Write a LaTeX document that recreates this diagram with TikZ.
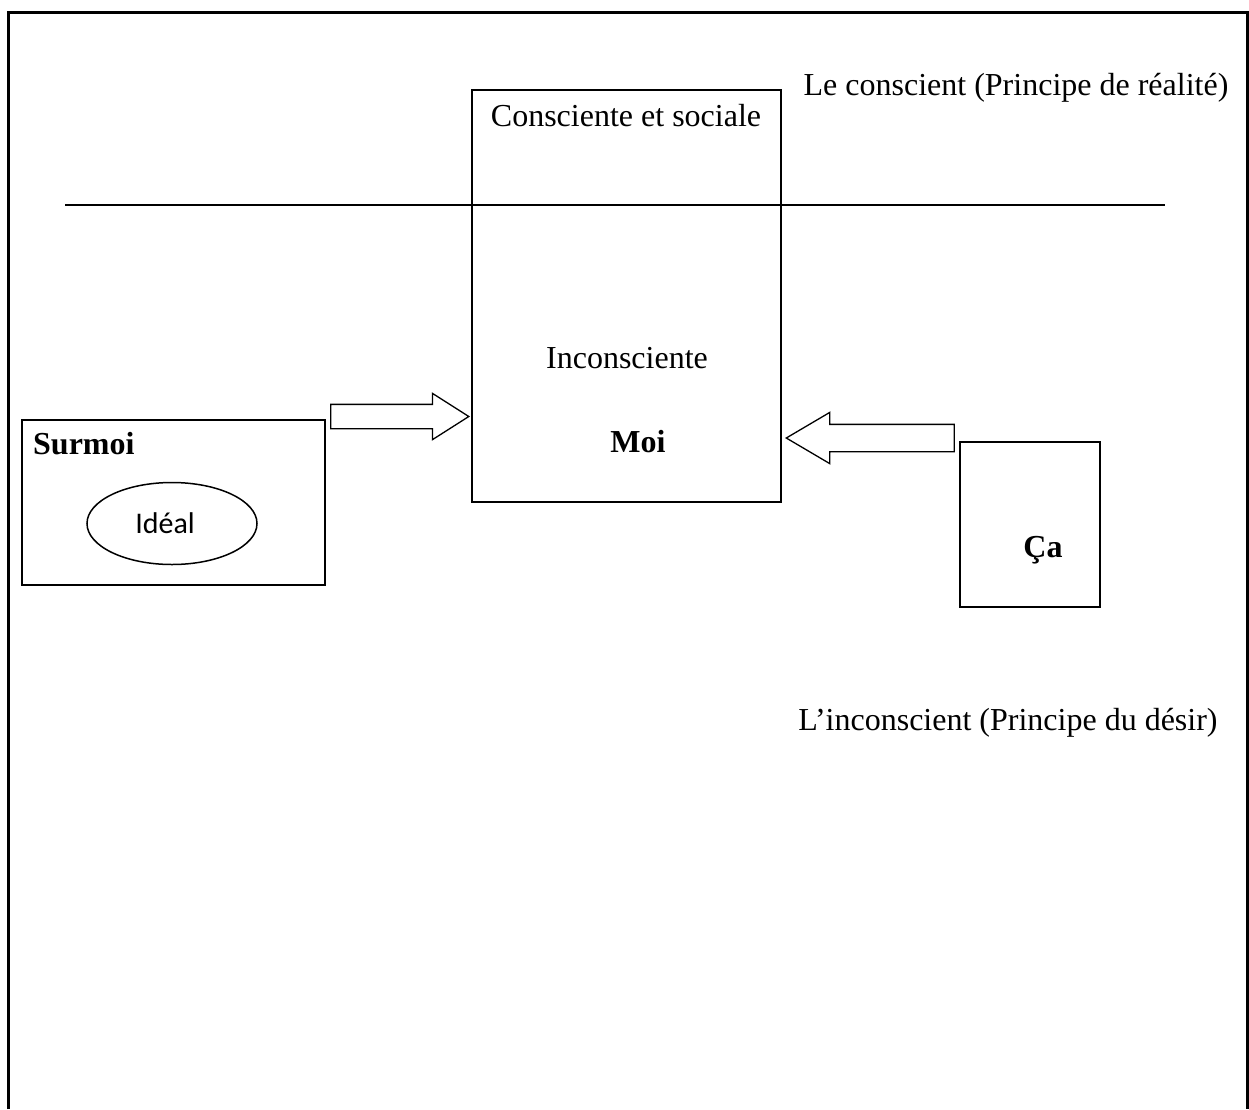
\documentclass[tikz,border=0pt]{standalone}
\usepackage{fontspec}
\setmainfont{Liberation Serif}
\newfontfamily\idealfont{Carlito}
\usetikzlibrary{positioning, shapes.geometric, shapes.arrows, calc}

\tikzset{
  box/.style={draw, line width=2pt, inner sep=0pt},
  label/.style={font=\fontsize{32}{38}\selectfont, inner sep=0pt},
  fatarrow/.style={single arrow, draw, line width=1.3pt, inner xsep=0pt, anchor=tip}
}

\begin{document}
\begin{tikzpicture}[x=1pt, y=-1pt]
  \useasboundingbox (0,0) rectangle (1249,1109);
  % outer frame, open at the bottom
  \draw[line width=3pt] (8,1109) -- (8,12) -- (1247,12) -- (1247,1109);

  % conscious / unconscious border
  \coordinate (lineL) at (65,205);
  \coordinate (lineR) at (1165,205);
  \draw[line width=1.6pt] (lineL) -- (lineR);

  % the ego
  \node[box, minimum width=309pt, minimum height=412pt] (moi) at (626.5,296) {};
  \node[label] (sociale) at (626,116) {Consciente et sociale};
  \node[label] (inconsc) at (627,358) {Inconsciente};
  \node[label, font=\fontsize{32}{38}\selectfont\bfseries] (moitxt) at (638,442) {Moi};

  % the superego
  \node[box, minimum width=303pt, minimum height=165pt] (surmoi) at (173.5,502.5) {};
  \node[label, font=\fontsize{32}{38}\selectfont\bfseries, anchor=west] (surmoitxt) at (33,444) {Surmoi};
  \node[ellipse, draw, line width=1.5pt, minimum width=170pt, minimum height=82pt,
        inner sep=0pt] (ideal) at (172,523.5) {};
  \node[inner sep=0pt, font=\idealfont\fontsize{30}{34}\selectfont] (idealtxt) at (165,523.5) {Idéal};

  % the id
  \node[box, minimum width=140pt, minimum height=165pt] (ca) at (1030,524.5) {};
  \node[label, font=\fontsize{32}{38}\selectfont\bfseries] (catxt) at (1043,550) {Ça};

  % pressures on the ego
  \node[fatarrow, inner ysep=11.5pt, minimum height=138pt,
        single arrow head extend=11pt, single arrow tip angle=65] (pushL) at (470,416.5) {};
  \node[fatarrow, inner ysep=13pt, minimum height=168pt, shape border rotate=180,
        single arrow head extend=12pt, single arrow tip angle=61] (pushR) at (785,438) {};

  % the two principles
  \node[label] (realite) at (1016,88) {Le conscient (Principe de réalité)};
  \node[label] (desir) at (1008,723) {L’inconscient (Principe du désir)};
\end{tikzpicture}
\end{document}
